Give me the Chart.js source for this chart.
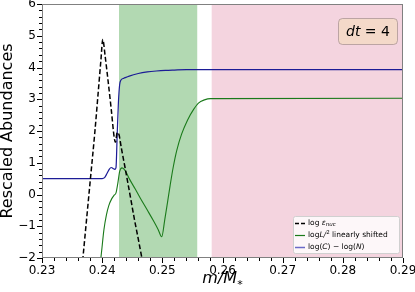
<!DOCTYPE html>
<html>
<head>
<meta charset="utf-8">
<script src="https://cdn.jsdelivr.net/npm/chart.js@4.4.1/dist/chart.umd.min.js"></script>
<style>
  html, body { margin: 0; padding: 0; background: #fff; }
  #wrap { width: 415px; height: 292px; }
</style>
</head>
<body>
<div id="wrap"><canvas id="chart"></canvas></div>
<script>
// log eps_nuc (dashed black)
const massNuc = [0.2364, 0.2368, 0.2374, 0.2380, 0.2388, 0.2394, 0.2398, 0.2401, 0.2405, 0.2410, 0.2415, 0.2420, 0.2422, 0.2425, 0.2428, 0.2432, 0.2438, 0.2446, 0.2454, 0.2460, 0.2466, 0.2470];
const epsNuc  = [-2.8, -2.0, -0.8, 0.4, 2.0, 3.35, 4.25, 4.88, 4.35, 3.55, 2.7, 1.8, 1.65, 1.95, 1.88, 1.45, 0.85, 0.02, -0.82, -1.4, -2.0, -2.4];

// log L / ^2 linearly shifted (green)
const massShift = [0.2395, 0.2399, 0.2403, 0.2407, 0.2411, 0.2416, 0.2420, 0.2423, 0.2426, 0.2429, 0.2433, 0.2438, 0.2445, 0.2455, 0.2463, 0.2475, 0.2485, 0.2493, 0.2499, 0.2504, 0.2509, 0.2513, 0.2518, 0.2524, 0.2532, 0.2542, 0.2552, 0.2560, 0.2570, 0.2580, 0.2900];
const lumShift  = [-2.5, -1.8, -1.1, -0.65, -0.35, -0.13, -0.02, 0.05, 0.35, 0.72, 0.84, 0.76, 0.5, 0.17, -0.1, -0.49, -0.82, -1.1, -1.33, -0.8, -0.2, 0.29, 0.85, 1.39, 1.9, 2.35, 2.68, 2.88, 2.98, 3.02, 3.03];

// log(C) - log(N) (blue)
const massCN  = [0.2300, 0.2400, 0.2404, 0.2408, 0.2412, 0.2415, 0.2418, 0.2421, 0.2423, 0.2425, 0.2427, 0.2429, 0.2431, 0.2436, 0.2445, 0.2460, 0.2475, 0.2490, 0.2505, 0.2520, 0.2540, 0.2560, 0.2900];
const ratioCN = [0.50, 0.50, 0.53, 0.66, 0.80, 0.85, 0.82, 0.79, 0.85, 1.9, 2.9, 3.45, 3.6, 3.66, 3.73, 3.81, 3.86, 3.89, 3.91, 3.92, 3.93, 3.93, 3.93];

const spanGreen = [0.2428, 0.2558];
const spanPink = [0.2582, 0.2900];

const xMajor = [0.23, 0.24, 0.25, 0.26, 0.27, 0.28, 0.29];
const yMajor = [-2, -1, 0, 1, 2, 3, 4, 5, 6];

const FONT = '"DejaVu Sans", sans-serif';

function pts(xs, ys) {
    return xs.map((x, i) => ({ x: x, y: ys[i] }));
}

function isMajor(v, list) {
    return list.some(m => Math.abs(m - v) < 1e-7);
}

function drawParts(ctx, x, y, parts, size, measureOnly) {
    let cx = x;
    parts.forEach(p => {
        const s = p.size || size;
        ctx.font = (p.it ? 'italic ' : '') + s + 'px ' + FONT;
        if (!measureOnly) ctx.fillText(p.t, cx, y + (p.dy || 0));
        cx += ctx.measureText(p.t).width;
    });
    return cx - x;
}

const decor = {
    id: 'decor',
    beforeDatasetsDraw(chart) {
        const { ctx, chartArea: a, scales: { x } } = chart;
        ctx.save();
        [[spanGreen, 'rgb(178,217,178)'], [spanPink, 'rgb(244,212,223)']].forEach(([s, c]) => {
            const x0 = x.getPixelForValue(s[0]);
            const x1 = x.getPixelForValue(s[1]);
            ctx.fillStyle = c;
            ctx.fillRect(x0, a.top, x1 - x0, a.bottom - a.top);
        });
        ctx.restore();
    },
    afterDraw(chart) {
        const { ctx, chartArea: a, scales: { x, y } } = chart;
        ctx.save();

        // frame
        ctx.strokeStyle = '#808080';
        ctx.lineWidth = 1;
        ctx.strokeRect(a.left + 0.5, a.top + 0.5, a.right - a.left - 1, a.bottom - a.top - 1);

        // ticks
        ctx.strokeStyle = '#000';
        ctx.beginPath();
        x.ticks.forEach(t => {
            const px = Math.round(x.getPixelForValue(t.value)) + 0.5;
            const len = isMajor(t.value, xMajor) ? 5 : 3;
            ctx.moveTo(px, a.bottom);
            ctx.lineTo(px, a.bottom + len);
        });
        y.ticks.forEach(t => {
            const py = Math.round(y.getPixelForValue(t.value)) + 0.5;
            const len = isMajor(t.value, yMajor) ? 5 : 3;
            ctx.moveTo(a.left, py);
            ctx.lineTo(a.left - len, py);
        });
        ctx.stroke();

        // x axis title m/M*
        ctx.fillStyle = '#000';
        ctx.textBaseline = 'alphabetic';
        const titleParts = [{ t: 'm/M', it: true }, { t: '*', it: true, size: 11, dy: 5 }];
        const tw = drawParts(ctx, 0, 0, titleParts, 16, true);
        drawParts(ctx, (a.left + a.right) / 2 - tw / 2, 283, titleParts, 16);

        // dt = 4 box
        const bx = 338, by = 18, bw = 59, bh = 26;
        ctx.beginPath();
        ctx.roundRect(bx + 0.5, by + 0.5, bw, bh, 4);
        ctx.fillStyle = 'rgb(244,217,201)';
        ctx.fill();
        ctx.strokeStyle = 'rgba(150,130,130,0.6)';
        ctx.stroke();
        ctx.fillStyle = '#000';
        const dtParts = [{ t: 'dt', it: true }, { t: ' = 4' }];
        const dw = drawParts(ctx, 0, 0, dtParts, 14, true);
        drawParts(ctx, bx + bw / 2 - dw / 2 + 0.5, by + 18, dtParts, 14);

        // legend
        const lx = 293, ly = 216, lw = 106, lh = 37;
        ctx.beginPath();
        ctx.roundRect(lx + 0.5, ly + 0.5, lw, lh, 2);
        ctx.fillStyle = 'rgba(255,255,255,0.8)';
        ctx.fill();
        ctx.strokeStyle = '#d0d0d0';
        ctx.stroke();
        const entries = [
            { color: '#000', dash: [4, 2], width: 1.5, parts: [{ t: 'log ' }, { t: 'ε', it: true }, { t: 'nuc', it: true, size: 5.5, dy: 1.5 }] },
            { color: '#1a7a1a', dash: [], width: 1.2, parts: [{ t: 'log' }, { t: 'L/', it: true }, { t: '2', size: 5.5, dy: -3 }, { t: ' linearly shifted' }] },
            { color: '#6a6ac8', dash: [], width: 1.5, parts: [{ t: 'log(' }, { t: 'C', it: true }, { t: ') − log(' }, { t: 'N', it: true }, { t: ')' }] }
        ];
        entries.forEach((e, i) => {
            const ey = ly + 7.5 + i * 12;
            ctx.beginPath();
            ctx.setLineDash(e.dash);
            ctx.strokeStyle = e.color;
            ctx.lineWidth = e.width;
            ctx.moveTo(lx + 2, ey);
            ctx.lineTo(lx + 12, ey);
            ctx.stroke();
            ctx.setLineDash([]);
            ctx.fillStyle = '#000';
            ctx.textBaseline = 'middle';
            drawParts(ctx, lx + 15, ey, e.parts, 7.5);
        });
        ctx.restore();
    }
};

new Chart(document.getElementById('chart'), {
    type: 'line',
    data: {
        datasets: [
            {
                label: 'log eps_nuc',
                data: pts(massNuc, epsNuc),
                borderColor: '#000',
                borderWidth: 1.5,
                borderDash: [5, 2.5],
                pointRadius: 0,
                cubicInterpolationMode: 'monotone'
            },
            {
                label: 'logL/2 linearly shifted',
                data: pts(massShift, lumShift),
                borderColor: '#1a7a1a',
                borderWidth: 1.1,
                pointRadius: 0,
                cubicInterpolationMode: 'monotone'
            },
            {
                label: 'log(C) - log(N)',
                data: pts(massCN, ratioCN),
                borderColor: '#1c1c96',
                borderWidth: 1.2,
                pointRadius: 0,
                cubicInterpolationMode: 'monotone'
            }
        ]
    },
    options: {
        responsive: true,
        maintainAspectRatio: false,
        animation: false,
        layout: { padding: { left: 0, right: 12, top: 4, bottom: 0 } },
        plugins: { legend: { display: false }, tooltip: { enabled: false } },
        scales: {
            x: {
                type: 'linear',
                min: 0.23,
                max: 0.29,
                grid: { display: false, drawTicks: false },
                border: { display: false },
                afterFit: s => { s.height = 34; s.paddingLeft = 0; s.paddingRight = 0; },
                ticks: {
                    stepSize: 0.002,
                    autoSkip: false,
                    maxRotation: 0,
                    padding: 6,
                    color: '#000',
                    font: { family: FONT, size: 12 },
                    callback: v => isMajor(v, xMajor) ? v.toFixed(2) : ''
                }
            },
            y: {
                min: -2,
                max: 6,
                grid: { display: false, drawTicks: false },
                border: { display: false },
                afterFit: s => { s.width = 42; s.paddingTop = 0; s.paddingBottom = 0; },
                title: {
                    display: true,
                    text: 'Rescaled Abundances',
                    color: '#000',
                    font: { family: FONT, size: 16, lineHeight: 1.0 },
                    padding: { top: 0, bottom: 0 }
                },
                ticks: {
                    stepSize: 0.2,
                    autoSkip: false,
                    padding: 6,
                    color: '#000',
                    font: { family: FONT, size: 12 },
                    callback: v => isMajor(v, yMajor) ? String(Math.round(v)).replace('-', '\u2212') : ''
                }
            }
        }
    },
    plugins: [decor]
});
</script>
</body>
</html>
